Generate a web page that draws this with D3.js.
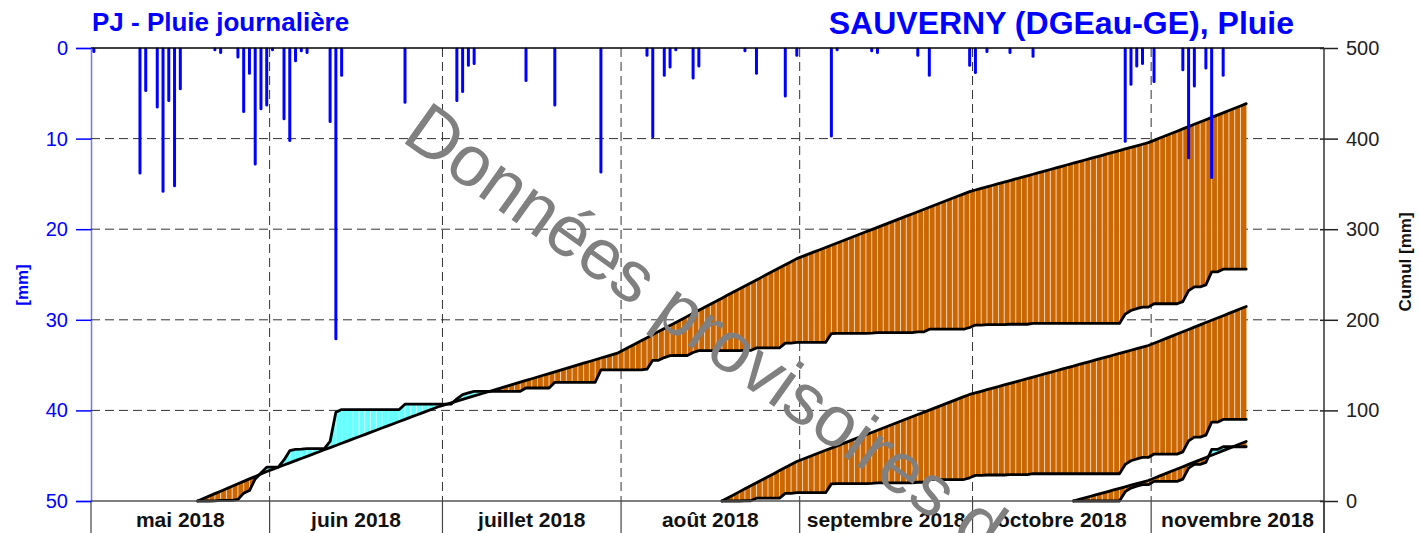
<!DOCTYPE html>
<html>
<head>
<meta charset="utf-8">
<script src="https://cdn.jsdelivr.net/npm/d3@7"></script>
<style>
  body { margin: 0; background: #fff; }
  svg { display: block; font-family: "Liberation Sans", Arial, Helvetica, sans-serif; }
</style>
</head>
<body>
<svg id="chart" width="1420" height="533"></svg>
<script>
// ---- data -------------------------------------------------------------
const monthStarts = ["2018-05-01", "2018-06-01", "2018-07-01", "2018-08-01",
                     "2018-09-01", "2018-10-01", "2018-11-01", "2018-12-01"];
const monthLabels = ["mai 2018", "juin 2018", "juillet 2018", "août 2018",
                     "septembre 2018", "octobre 2018", "novembre 2018"];
// monthly rainfall normals (mm), May..November
const normalMonthly = [84, 72, 59, 104, 74, 54, 76];

// daily rainfall (mm); days not listed had no rain
const rainDates = [
  "2018-05-01", "2018-05-09", "2018-05-10", "2018-05-12", "2018-05-13", "2018-05-14",
  "2018-05-15", "2018-05-16", "2018-05-22", "2018-05-23", "2018-05-26", "2018-05-27",
  "2018-05-28", "2018-05-29", "2018-05-30", "2018-05-31", "2018-06-01", "2018-06-03",
  "2018-06-04", "2018-06-05", "2018-06-06", "2018-06-07", "2018-06-11", "2018-06-12",
  "2018-06-13", "2018-06-24", "2018-07-03", "2018-07-04", "2018-07-05", "2018-07-06",
  "2018-07-15", "2018-07-20", "2018-07-28", "2018-08-05", "2018-08-06", "2018-08-08",
  "2018-08-09", "2018-08-10", "2018-08-13", "2018-08-14", "2018-08-22", "2018-08-24",
  "2018-08-29", "2018-08-31", "2018-09-06", "2018-09-07", "2018-09-13", "2018-09-14",
  "2018-09-21", "2018-09-23", "2018-09-30", "2018-10-01", "2018-10-03", "2018-10-07",
  "2018-10-11", "2018-10-27", "2018-10-28", "2018-10-29", "2018-10-30", "2018-11-01",
  "2018-11-06", "2018-11-07", "2018-11-08", "2018-11-10", "2018-11-11", "2018-11-13"
];
const rainMm = [
  0.4, 13.8, 4.7, 6.5, 15.8, 5.8,
  15.2, 4.5, 0.2, 0.5, 1.0, 7.0,
  2.8, 12.8, 6.7, 6.3, 0.2, 7.8,
  10.2, 1.4, 0.3, 0.5, 8.1, 32.1,
  3.0, 6.0, 5.8, 4.8, 1.9, 1.7,
  3.6, 6.3, 13.7, 0.8, 9.8, 3.0,
  2.1, 0.2, 3.3, 2.0, 0.3, 2.8,
  5.3, 0.8, 9.7, 0.2, 0.3, 0.5,
  0.8, 3.0, 1.9, 2.7, 0.4, 0.5,
  0.9, 10.3, 4.0, 2.0, 1.7, 3.7,
  2.4, 12.1, 4.2, 2.2, 14.3, 3.0
];

// cumulative periods (6, 3 and 1 month) all ending on the last day
const periodStarts = ["2018-05-19", "2018-08-18", "2018-10-18"];
const periodEnd = "2018-11-17";

const leftTicks = [0, 10, 20, 30, 40, 50];
const rightTicks = [0, 100, 200, 300, 400, 500];

// ---- layout -----------------------------------------------------------
const W = 1420, H = 533;
const L = 91, R = 1324, T = 48, B = 501;
const parse = d3.utcParse("%Y-%m-%d");

const svg = d3.select("#chart");
const months = monthStarts.map(parse);

const x = d3.scaleUtc().domain([months[0], months[months.length - 1]]).range([L, R]);
const yRain = d3.scaleLinear().domain([0, 50]).range([T, B]);
const yCum = d3.scaleLinear().domain([0, 500]).range([B, T]);
const dayCenter = d => (x(d) + x(d3.utcDay.offset(d, 1))) / 2;

const ORANGE = "#cc6600", CYAN = "#66ffff", BLUE = "#0000ff";

// daily rain lookup
const rainByDay = new Map(rainDates.map((s, i) => [+parse(s), rainMm[i]]));
const dailyNormal = d => {
  const m = d.getUTCMonth() - 4;
  const first = d3.utcMonth.floor(d);
  const nDays = d3.utcDay.count(first, d3.utcMonth.offset(first, 1));
  return normalMonthly[m] / nDays;
};

// ---- grid ---------------------------------------------------------------
const grid = svg.append("g").attr("stroke", "#333").attr("stroke-width", 1)
  .attr("stroke-dasharray", "9,5");
grid.selectAll("line.h").data(leftTicks.slice(1, -1)).join("line")
  .attr("x1", L).attr("x2", R).attr("y1", d => yRain(d)).attr("y2", d => yRain(d));
grid.selectAll("line.v").data(months.slice(1, -1)).join("line")
  .attr("x1", d => x(d)).attr("x2", d => x(d)).attr("y1", T).attr("y2", B);

// ---- cumulative periods ------------------------------------------------
const end = parse(periodEnd);
const fillG = svg.append("g");
const stripeG = svg.append("g");
const lineG = svg.append("g");

periodStarts.forEach(s => {
  const days = d3.utcDay.range(parse(s), d3.utcDay.offset(end, 1));
  let obs = 0, nor = 0;
  const pts = days.map((d, i) => {
    if (i > 0) { obs += rainByDay.get(+d) || 0; nor += dailyNormal(d); }
    return { x: dayCenter(d), obs: obs, nor: nor };
  });

  // day-by-day fill between normal and observed; orange = deficit, cyan = surplus
  const col = v => v >= 0 ? ORANGE : CYAN;
  const poly = p => fillG.append("polygon").attr("points", p.map(q => q.join(",")).join(" "));
  for (let i = 0; i < pts.length - 1; i++) {
    const a = pts[i], b = pts[i + 1];
    const d0 = a.nor - a.obs, d1 = b.nor - b.obs;
    if (d0 * d1 < 0) {
      const t = d0 / (d0 - d1);
      const xc = a.x + t * (b.x - a.x), vc = a.nor + t * (b.nor - a.nor);
      poly([[a.x, yCum(a.nor)], [xc, yCum(vc)], [a.x, yCum(a.obs)]]).attr("fill", col(d0));
      poly([[xc, yCum(vc)], [b.x, yCum(b.nor)], [b.x, yCum(b.obs)]]).attr("fill", col(d1));
    } else {
      const c = Math.abs(d0) > Math.abs(d1) ? d0 : d1;
      poly([[a.x, yCum(a.nor)], [b.x, yCum(b.nor)], [b.x, yCum(b.obs)], [a.x, yCum(a.obs)]])
        .attr("fill", col(c)).attr("stroke", col(c)).attr("stroke-width", 0.4);
    }
  }
  stripeG.selectAll(null).data(pts.slice(1, -1)).join("line")
    .attr("x1", d => d.x).attr("x2", d => d.x)
    .attr("y1", d => yCum(d.obs)).attr("y2", d => yCum(d.nor))
    .attr("stroke", "#fff").attr("stroke-opacity", 0.7).attr("stroke-width", 1);

  const ln = key => d3.line().x(d => d.x).y(d => yCum(d[key]));
  ["nor", "obs"].forEach(k => lineG.append("path").datum(pts).attr("d", ln(k))
    .attr("fill", "none").attr("stroke", "#000").attr("stroke-width", 2.8)
    .attr("stroke-linejoin", "round").attr("stroke-linecap", "round"));
});

// ---- daily rain bars ------------------------------------------------------
const bars = rainDates.map((s, i) => ({ d: parse(s), v: rainMm[i] }));
svg.append("g").selectAll("line").data(bars).join("line")
  .attr("x1", d => dayCenter(d.d)).attr("x2", d => dayCenter(d.d))
  .attr("y1", yRain(0) + 1).attr("y2", d => yRain(d.v))
  .attr("stroke", BLUE).attr("stroke-width", 3).attr("stroke-linecap", "round");

// ---- frame & axes -----------------------------------------------------------
svg.append("line").attr("x1", L).attr("x2", R).attr("y1", T).attr("y2", T)
  .attr("stroke", "#000").attr("stroke-width", 1.5);
svg.append("line").attr("x1", L).attr("x2", R).attr("y1", B).attr("y2", B)
  .attr("stroke", "#555").attr("stroke-width", 1.5);

// month separators in the label band
svg.append("g").selectAll("line").data(months).join("line")
  .attr("x1", d => x(d)).attr("x2", d => x(d)).attr("y1", B).attr("y2", H)
  .attr("stroke", "#444").attr("stroke-width", 1.2);
svg.append("g").selectAll("text").data(monthLabels).join("text")
  .attr("x", (d, i) => (x(months[i]) + x(months[i + 1])) / 2)
  .attr("y", 527).attr("text-anchor", "middle")
  .attr("font-weight", "bold").attr("font-size", 21).attr("fill", "#111")
  .text(d => d);

// left axis (daily rain, inverted)
const leftAxis = svg.append("g").attr("transform", `translate(${L},0)`)
  .call(d3.axisLeft(yRain).tickValues(leftTicks).tickSize(15).tickPadding(8));
leftAxis.select(".domain").attr("stroke", BLUE).attr("stroke-opacity", 0.55).attr("stroke-width", 1.5);
leftAxis.selectAll(".tick line").attr("stroke", BLUE).attr("stroke-width", 1.5);
leftAxis.selectAll(".tick text").attr("fill", BLUE).attr("font-size", 20)
  .attr("font-family", "Liberation Sans, Arial, sans-serif");

// right axis (cumulative)
const rightAxis = svg.append("g").attr("transform", `translate(${R},0)`)
  .call(d3.axisRight(yCum).tickValues(rightTicks).tickSize(14).tickPadding(8));
rightAxis.select(".domain").remove();
svg.append("line").attr("x1", R).attr("x2", R).attr("y1", T).attr("y2", H)
  .attr("stroke", "#333").attr("stroke-width", 1.5);
rightAxis.selectAll(".tick line").attr("stroke", "#222").attr("stroke-width", 1.5).attr("x1", -4);
rightAxis.selectAll(".tick text").attr("fill", "#222").attr("font-size", 20)
  .attr("font-family", "Liberation Sans, Arial, sans-serif");

// axis titles
svg.append("text").attr("transform", "translate(28,285) rotate(-90)")
  .attr("text-anchor", "middle").attr("font-weight", "bold").attr("font-size", 17)
  .attr("fill", BLUE).text("[mm]");
svg.append("text").attr("transform", "translate(1411,262) rotate(-90)")
  .attr("text-anchor", "middle").attr("font-weight", "bold").attr("font-size", 17)
  .attr("fill", "#111").text("Cumul [mm]");

// titles
svg.append("text").attr("x", 92).attr("y", 31).attr("font-weight", "bold")
  .attr("font-size", 26).attr("fill", BLUE).text("PJ - Pluie journalière");
svg.append("text").attr("x", 1294).attr("y", 34).attr("text-anchor", "end")
  .attr("font-weight", "bold").attr("font-size", 32).attr("fill", BLUE)
  .text("SAUVERNY (DGEau-GE), Pluie");

// provisional-data watermark
svg.append("text").attr("transform", "translate(400,140) rotate(35.5)")
  .attr("font-size", 72).attr("fill", "#808080")
  .text("Données provisoires d");
</script>
</body>
</html>
